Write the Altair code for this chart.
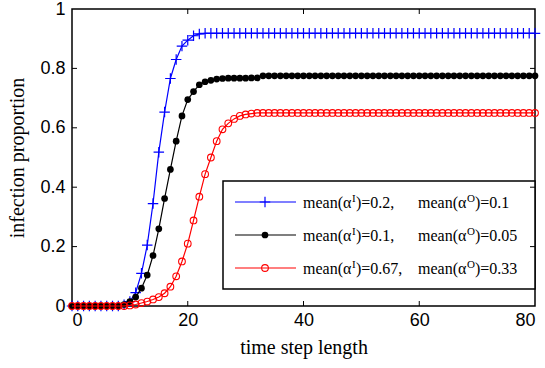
import altair as alt
import pandas as pd

steps = list(range(81))

blue_vals = [0, 0, 0, 0, 0, 0, 0, 0, 0, 0.004,
             0.015, 0.045, 0.11, 0.205, 0.345, 0.518, 0.653, 0.766, 0.83, 0.875,
             0.895, 0.91, 0.916, 0.918, 0.918, 0.918, 0.918, 0.918, 0.918, 0.918,
             0.918, 0.918, 0.918, 0.918, 0.918, 0.918, 0.918, 0.918, 0.918, 0.918,
             0.918, 0.918, 0.918, 0.918, 0.918, 0.918, 0.918, 0.918, 0.918, 0.918,
             0.918, 0.918, 0.918, 0.918, 0.918, 0.918, 0.918, 0.918, 0.918, 0.918,
             0.918, 0.918, 0.918, 0.918, 0.918, 0.918, 0.918, 0.918, 0.918, 0.918,
             0.918, 0.918, 0.918, 0.918, 0.918, 0.918, 0.918, 0.918, 0.918, 0.918,
             0.918]

black_vals = [0, 0, 0, 0, 0, 0, 0, 0, 0, 0.005,
              0.015, 0.03, 0.06, 0.104, 0.17, 0.26, 0.362, 0.46, 0.555, 0.64,
              0.695, 0.722, 0.745, 0.755, 0.76, 0.764, 0.766, 0.767, 0.767, 0.767,
              0.767, 0.768, 0.768, 0.775, 0.775, 0.775, 0.775, 0.775, 0.775, 0.775,
              0.775, 0.775, 0.775, 0.775, 0.775, 0.775, 0.775, 0.775, 0.775, 0.775,
              0.775, 0.775, 0.775, 0.775, 0.775, 0.775, 0.775, 0.775, 0.775, 0.775,
              0.775, 0.775, 0.775, 0.775, 0.775, 0.775, 0.775, 0.775, 0.775, 0.775,
              0.775, 0.775, 0.775, 0.775, 0.775, 0.775, 0.775, 0.775, 0.775, 0.775,
              0.775]

red_vals = [0, 0, 0, 0, 0, 0, 0, 0, 0, 0,
            0.002, 0.005, 0.01, 0.015, 0.022, 0.03, 0.043, 0.065, 0.10, 0.15,
            0.21, 0.288, 0.368, 0.444, 0.50, 0.555, 0.595, 0.615, 0.63, 0.64,
            0.645, 0.648, 0.65, 0.65, 0.65, 0.65, 0.65, 0.65, 0.65, 0.65,
            0.65, 0.65, 0.65, 0.65, 0.65, 0.65, 0.65, 0.65, 0.65, 0.65,
            0.65, 0.65, 0.65, 0.65, 0.65, 0.65, 0.65, 0.65, 0.65, 0.65,
            0.65, 0.65, 0.65, 0.65, 0.65, 0.65, 0.65, 0.65, 0.65, 0.65,
            0.65, 0.65, 0.65, 0.65, 0.65, 0.65, 0.65, 0.65, 0.65, 0.65,
            0.65]

# legend label pieces: "mean(α" + superscript + rest
label_head = "mean(\u03b1"
sup_in = "I"
sup_out = "O"
legend_in_rest = [")=0.2,", ")=0.1,", ")=0.67,"]
legend_out_rest = [")=0.1", ")=0.05", ")=0.33"]

x_ticks = [0, 20, 40, 60, 80]
y_ticks = [0, 0.2, 0.4, 0.6, 0.8, 1]

TOP = 9
W, H = 463, 297
PLUS = "M-1,0L1,0M0,-1L0,1"
SERIF = "Liberation Serif"
SANS = "Liberation Sans"

series = [
    (blue_vals, "#0000ff", dict(shape=PLUS, filled=False, size=110, strokeWidth=1.2)),
    (black_vals, "#000000", dict(shape="circle", filled=True, size=45)),
    (red_vals, "#ff0000", dict(shape="circle", filled=False, size=45, strokeWidth=1.1)),
]

xscale = alt.Scale(domain=[0, 80], nice=False)
yscale = alt.Scale(domain=[0, 1], nice=False)

x_axis = alt.Axis(values=x_ticks, title="time step length", ticks=False,
                  domain=False, grid=False, labelPadding=5,
                  labelFont=SANS, labelFontSize=18,
                  labelColor="black", titleFont=SERIF,
                  titleFontSize=20, titleFontWeight="normal",
                  titleColor="black", titlePadding=8)
y_axis = alt.Axis(values=y_ticks, format="~g", title="infection proportion",
                  ticks=False, domain=False, grid=False, labelPadding=7,
                  labelFont=SANS, labelFontSize=18,
                  labelColor="black", titleFont=SERIF,
                  titleFontSize=20, titleFontWeight="normal",
                  titleColor="black", titlePadding=12)

layers = []
for i, (vals, col, pstyle) in enumerate(series):
    df = pd.DataFrame({"t": steps, "v": vals})
    base = alt.Chart(df).encode(
        x=alt.X("t:Q", scale=xscale, axis=x_axis),
        y=alt.Y("v:Q", scale=yscale, axis=y_axis))
    layers.append(base.mark_line(color=col, strokeWidth=1.2))
    layers.append(base.mark_point(color=col, opacity=1, **pstyle))

# legend box (pixel positions inside the plot area)
BOX_TOP, BOX_BOTTOM = 172, 280
box_df = pd.DataFrame({"k": [0]})
layers.append(alt.Chart(box_df).mark_rect(fill="white", stroke="black", strokeWidth=1.5).encode(
    x=alt.value(151), x2=alt.value(W), y=alt.value(BOX_TOP), y2=alt.value(BOX_BOTTOM)))


def txt(df, field, x, y, size):
    return alt.Chart(df).mark_text(align="left", baseline="alphabetic", font=SERIF,
                                   fontSize=size, color="black").encode(
        x=alt.value(x), y=alt.value(y), text=f"{field}:N")


row_y = [193, 226, 259]
c1, c2 = 231, 346
for i, (vals, col, pstyle) in enumerate(series):
    ldf = pd.DataFrame({"h": [label_head], "si": [sup_in], "so": [sup_out],
                        "ri": [legend_in_rest[i]], "ro": [legend_out_rest[i]]})
    lc = alt.Chart(ldf)
    yb = row_y[i] + 6
    layers.append(lc.mark_rule(color=col, strokeWidth=1.2).encode(
        x=alt.value(163), x2=alt.value(224), y=alt.value(row_y[i])))
    layers.append(lc.mark_point(color=col, opacity=1, **pstyle).encode(
        x=alt.value(193), y=alt.value(row_y[i])))
    layers.append(txt(ldf, "h", c1, yb, 16))
    layers.append(txt(ldf, "si", c1 + 49, yb - 6, 11))
    layers.append(txt(ldf, "ri", c1 + 53, yb, 16))
    layers.append(txt(ldf, "h", c2, yb, 16))
    layers.append(txt(ldf, "so", c2 + 49, yb - 6, 11))
    layers.append(txt(ldf, "ro", c2 + 57, yb, 16))

# inward ticks (drawn from the tick lists through the shared scales)
xt = pd.DataFrame({"t": x_ticks[1:-1]})
yt = pd.DataFrame({"v": y_ticks[1:-1]})
layers.append(alt.Chart(xt).mark_rule(color="black", strokeWidth=1).encode(
    x=alt.X("t:Q", scale=xscale, axis=x_axis), y=alt.value(H - 5), y2=alt.value(H)))
layers.append(alt.Chart(xt).mark_rule(color="black", strokeWidth=1).encode(
    x=alt.X("t:Q", scale=xscale, axis=x_axis), y=alt.value(0), y2=alt.value(5)))
layers.append(alt.Chart(yt).mark_rule(color="black", strokeWidth=1).encode(
    y=alt.Y("v:Q", scale=yscale, axis=y_axis), x=alt.value(0), x2=alt.value(5)))
layers.append(alt.Chart(yt).mark_rule(color="black", strokeWidth=1).encode(
    y=alt.Y("v:Q", scale=yscale, axis=y_axis), x=alt.value(W - 5), x2=alt.value(W)))

chart = alt.layer(*layers).properties(
    width=W, height=H,
    autosize=alt.AutoSizeParams(type="none"),
    padding={"left": 72, "top": TOP, "right": 10, "bottom": 62},
    background="white",
).configure_view(stroke="black", strokeWidth=1.5)

chart.save("out.html", embed_options={"renderer": "svg", "actions": False})
